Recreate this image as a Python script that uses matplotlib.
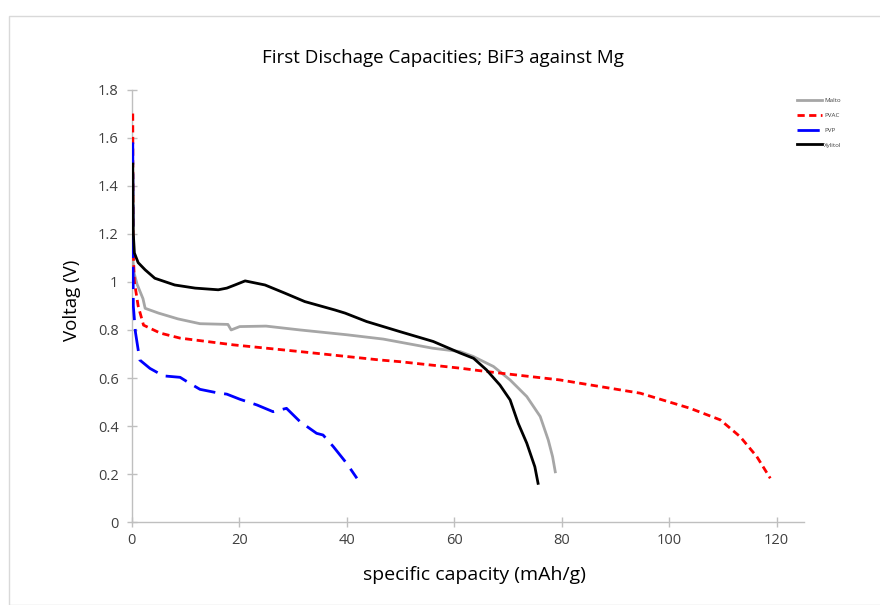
import matplotlib
matplotlib.use("Agg")
import matplotlib.pyplot as plt
from matplotlib.patches import Rectangle

# Data
malto_x = [0.2, 0.4, 1.0, 2.1, 2.5, 5.0, 8.6, 12.7, 17.9, 18.5, 20.1, 25, 31.3, 40, 46.8, 56, 61.1, 63.5, 67.3, 70.4, 73.5, 76.0, 77.5, 78.3, 78.8]
malto_v = [1.10, 1.04, 0.99, 0.93, 0.89, 0.87, 0.846, 0.826, 0.823, 0.80, 0.814, 0.816, 0.80, 0.78, 0.762, 0.724, 0.71, 0.69, 0.648, 0.592, 0.523, 0.44, 0.342, 0.273, 0.21]

pvac_x = [0.2, 0.25, 0.5, 1.2, 2.2, 5.3, 9, 18.9, 31.3, 46.2, 49.9, 61.1, 66, 79.7, 94.6, 103.9, 109.5, 113.2, 116.3, 118.8]
pvac_v = [1.70, 1.15, 1.0, 0.90, 0.82, 0.787, 0.766, 0.738, 0.71, 0.675, 0.668, 0.641, 0.627, 0.592, 0.537, 0.474, 0.426, 0.356, 0.273, 0.183]

pvp_x = [0.2, 0.25, 0.3, 0.7, 1.5, 3.4, 5.9, 9, 10.8, 12.7, 15.8, 17.7, 20.1, 23.3, 26.3, 28.8, 31.3, 34.4, 35.6, 37.5, 40, 41.9]
pvp_v = [1.58, 1.10, 0.90, 0.79, 0.675, 0.64, 0.609, 0.603, 0.578, 0.553, 0.539, 0.533, 0.512, 0.488, 0.46, 0.474, 0.419, 0.37, 0.363, 0.315, 0.245, 0.183]

xyl_x = [0.2, 0.3, 0.5, 1.2, 2.5, 4.3, 8, 11.8, 16.1, 17.7, 19.2, 21.1, 24.8, 28.5, 32.2, 37.8, 39.7, 43.7, 49.9, 56.1, 61.0, 63.6, 66.0, 68.5, 70.4, 71.9, 73.5, 75.0, 75.6]
xyl_v = [1.49, 1.20, 1.12, 1.08, 1.05, 1.015, 0.987, 0.974, 0.967, 0.974, 0.987, 1.004, 0.987, 0.953, 0.918, 0.883, 0.87, 0.835, 0.793, 0.752, 0.705, 0.682, 0.634, 0.571, 0.509, 0.412, 0.329, 0.231, 0.162]

series_names = ["Malto", "PVAC", "PVP", "Xylitol"]
x_ticks = [0, 20, 40, 60, 80, 100, 120]
y_ticks = [0, 0.2, 0.4, 0.6, 0.8, 1.0, 1.2, 1.4, 1.6, 1.8]
y_tick_labels = ["0", "0.2", "0.4", "0.6", "0.8", "1", "1.2", "1.4", "1.6", "1.8"]

plt.rcParams['font.family'] = ['Open Sans', 'DejaVu Sans']

fig = plt.figure(figsize=(8.8, 6.05), dpi=100)
W, H = 880, 605
# outer chart frame
fig.patches.append(Rectangle((9 / W, 0), 1 - 9 / W + 0.01, 1 - 16 / H, transform=fig.transFigure,
                             fill=False, edgecolor="#d9d9d9", linewidth=1.0))

ax = fig.add_axes([131.7 / W, 1 - 522.3 / H, (803.6 - 131.7) / W, (522.3 - 89.5) / H])

ax.plot(malto_x, malto_v, color="#a6a6a6", lw=2.0, label=series_names[0], zorder=3)
ax.plot(pvac_x, pvac_v, color="#ff0000", lw=2.0, dashes=(2.6, 1.6), label=series_names[1], zorder=3)
ax.plot(pvp_x, pvp_v, color="#0000ff", lw=2.0, dashes=(8, 3.2), label=series_names[2], zorder=3)
ax.plot(xyl_x, xyl_v, color="#000000", lw=2.0, label=series_names[3], zorder=3)

ax.set_xlim(0, 125)
ax.set_ylim(0, 1.8)
ax.set_xticks(x_ticks)
ax.set_yticks(y_ticks)
ax.set_yticklabels(y_tick_labels)
for s in ["top", "right"]:
    ax.spines[s].set_visible(False)
for s in ["left", "bottom"]:
    ax.spines[s].set_color("#bfbfbf")
    ax.spines[s].set_linewidth(1.0)
ax.tick_params(axis="both", direction="inout", length=7, width=1.0, color="#bfbfbf",
               labelsize=10.5, labelcolor="#404040")
ax.tick_params(axis="y", pad=6)
ax.tick_params(axis="x", pad=4)

fig.text(443 / W, 1 - 58 / H, "First Dischage Capacities; BiF3 against Mg", ha="center", va="center",
         fontsize=13.5, color="#000000")
fig.text(474 / W, 1 - 575 / H, "specific capacity (mAh/g)", ha="center", va="center",
         fontsize=14, color="#000000")
fig.text(72 / W, 1 - 300 / H, "Voltag (V)", ha="center", va="center", rotation=90,
         fontsize=13.5, color="#000000")

leg = ax.legend(loc="upper left", bbox_to_anchor=(797 / W, 1 - 98 / H), bbox_transform=fig.transFigure,
                frameon=False, fontsize=4.5, handlelength=4.0, handletextpad=0.3, labelspacing=1.5,
                borderpad=0, borderaxespad=0)
for t in leg.get_texts():
    t.set_color("#404040")

fig.savefig("out.png", dpi=100)
